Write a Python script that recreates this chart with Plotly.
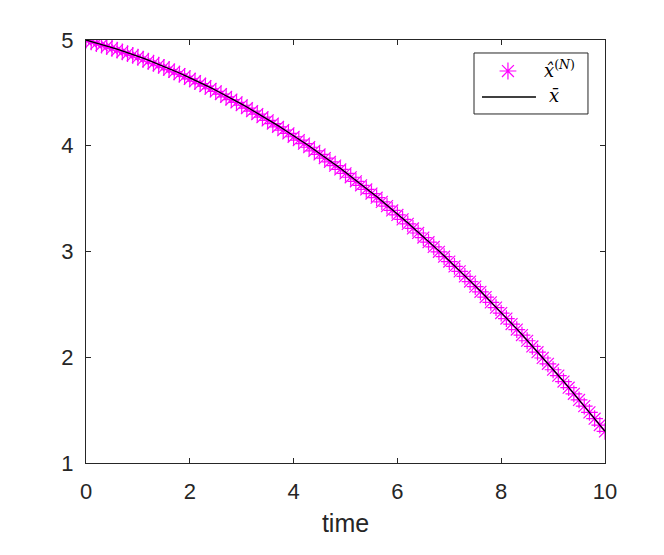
import plotly.graph_objects as go

time = [i / 10 for i in range(101)]

x_bar = [5.000, 4.987, 4.973, 4.959, 4.944, 4.929, 4.913, 4.897, 4.881, 4.864,
         4.846, 4.828, 4.809, 4.790, 4.771, 4.751, 4.731, 4.710, 4.688, 4.666,
         4.644, 4.621, 4.598, 4.574, 4.550, 4.525, 4.500, 4.474, 4.448, 4.421,
         4.394, 4.366, 4.338, 4.310, 4.281, 4.251, 4.221, 4.190, 4.159, 4.128,
         4.096, 4.064, 4.031, 3.997, 3.963, 3.929, 3.894, 3.859, 3.823, 3.787,
         3.750, 3.713, 3.675, 3.637, 3.598, 3.559, 3.519, 3.479, 3.439, 3.398,
         3.356, 3.314, 3.271, 3.228, 3.185, 3.141, 3.097, 3.052, 3.006, 2.960,
         2.914, 2.867, 2.820, 2.772, 2.724, 2.675, 2.626, 2.576, 2.526, 2.475,
         2.424, 2.372, 2.320, 2.268, 2.215, 2.161, 2.107, 2.052, 1.997, 1.942,
         1.886, 1.830, 1.773, 1.715, 1.657, 1.599, 1.540, 1.481, 1.421, 1.361,
         1.300]

x_hat = [5.000, 4.982, 4.967, 4.952, 4.937, 4.921, 4.905, 4.888, 4.872, 4.855,
         4.837, 4.818, 4.799, 4.780, 4.761, 4.741, 4.720, 4.699, 4.678, 4.656,
         4.633, 4.610, 4.587, 4.563, 4.539, 4.514, 4.489, 4.463, 4.437, 4.410,
         4.383, 4.355, 4.327, 4.299, 4.270, 4.240, 4.210, 4.179, 4.148, 4.117,
         4.085, 4.053, 4.020, 3.986, 3.952, 3.918, 3.883, 3.848, 3.812, 3.776,
         3.739, 3.702, 3.664, 3.626, 3.587, 3.548, 3.509, 3.469, 3.429, 3.388,
         3.346, 3.304, 3.261, 3.218, 3.175, 3.132, 3.088, 3.043, 2.997, 2.951,
         2.905, 2.859, 2.812, 2.764, 2.716, 2.668, 2.619, 2.569, 2.519, 2.469,
         2.418, 2.366, 2.314, 2.262, 2.210, 2.156, 2.102, 2.048, 1.993, 1.938,
         1.882, 1.826, 1.770, 1.712, 1.654, 1.596, 1.538, 1.479, 1.419, 1.359,
         1.299]

x_ticks = [0, 2, 4, 6, 8, 10]
y_ticks = [1, 2, 3, 4, 5]
legend_labels = ["<i>x̂</i><sup>(<i>N</i>)</sup>", "<i>x̄</i>"]

AX = "#262626"
MAGENTA = "#ff00ff"
marker_style = dict(symbol="asterisk-open", size=14, color=MAGENTA,
                    line=dict(color=MAGENTA, width=1.2))

fig = go.Figure()
fig.add_trace(go.Scatter(
    x=time, y=x_hat, mode="markers", name=legend_labels[0],
    marker=marker_style, showlegend=False,
))
fig.add_trace(go.Scatter(
    x=time, y=x_bar, mode="lines", name=legend_labels[1],
    line=dict(color="black", width=1.3), showlegend=False,
))

# legend drawn in an overlay [0,1] x [0,1] frame covering the axes box
LX0, LX1, LY0, LY1 = 0.7476, 0.9672, 0.8251, 0.9693
ROW1, ROW2 = 0.9267, 0.8652
fig.add_trace(go.Scatter(
    x=[0.813], y=[ROW1], mode="markers", marker=marker_style,
    xaxis="x2", yaxis="y2", showlegend=False, hoverinfo="skip",
))
fig.add_trace(go.Scatter(
    x=[0.763, 0.867], y=[ROW2, ROW2], mode="lines",
    line=dict(color="black", width=1.3),
    xaxis="x2", yaxis="y2", showlegend=False, hoverinfo="skip",
))
fig.add_shape(type="rect", xref="x2", yref="y2", x0=LX0, x1=LX1, y0=LY0, y1=LY1,
              line=dict(color=AX, width=1), fillcolor="white", layer="below")
fig.add_annotation(xref="x2", yref="y2", x=0.879, y=ROW1 + 0.004, text=legend_labels[0],
                   showarrow=False, xanchor="left", yanchor="middle",
                   font=dict(family="DejaVu Serif, Liberation Serif, serif", size=18, color="black"))
fig.add_annotation(xref="x2", yref="y2", x=0.889, y=ROW2 + 0.004, text=legend_labels[1],
                   showarrow=False, xanchor="left", yanchor="middle",
                   font=dict(family="DejaVu Serif, Liberation Serif, serif", size=18, color="black"))

axis_common = dict(
    showgrid=False, zeroline=False, showline=True, linecolor=AX, linewidth=1,
    mirror="allticks", ticks="inside", ticklen=5, tickcolor=AX, tickwidth=1,
    tickfont=dict(family="Liberation Sans, Arial, sans-serif", size=22, color=AX),
)
fig.update_xaxes(range=[0, 10], tickvals=x_ticks, ticklabelstandoff=9, title=dict(
    text="time", font=dict(family="Liberation Sans, Arial, sans-serif", size=25, color=AX),
    standoff=11), **axis_common)
fig.update_yaxes(range=[1, 5], tickvals=y_ticks, ticklabelstandoff=7, **axis_common)

fig.update_layout(
    width=656, height=547,
    margin=dict(l=78, r=59, t=32, b=92),
    plot_bgcolor="white", paper_bgcolor="white",
    showlegend=False,
    xaxis2=dict(overlaying="x", range=[0, 1], visible=False, fixedrange=True),
    yaxis2=dict(overlaying="y", range=[0, 1], visible=False, fixedrange=True),
)

fig.write_html("out.html")
